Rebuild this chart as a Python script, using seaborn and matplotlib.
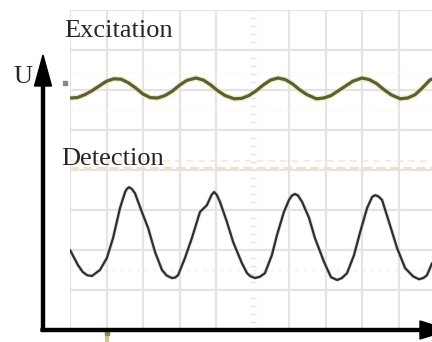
import numpy as np
import pandas as pd
import matplotlib
matplotlib.use('Agg')
import matplotlib.pyplot as plt
import seaborn as sns

# Oszilloskop-Bild: Zeit und Spannung in Rasterteilungen (div) gemessen
exc_t = [0.00, 0.20, 0.40, 0.60, 0.80, 1.00, 1.20, 1.40, 1.60, 1.80, 2.00, 2.20, 2.40, 2.60,
         2.80, 3.00, 3.20, 3.45, 3.65, 3.85, 4.05, 4.25, 4.50, 4.70, 4.90, 5.10, 5.30, 5.50,
         5.70, 5.90, 6.10, 6.30, 6.50, 6.75, 6.95, 7.15, 7.35, 7.55, 7.75, 8.00, 8.20, 8.40,
         8.60, 8.80, 9.05, 9.25, 9.45, 9.65, 9.86, 10.00]
exc_u = [1.80, 1.81, 1.88, 1.98, 2.10, 2.22, 2.28, 2.27, 2.18, 2.05, 1.90, 1.81, 1.80, 1.86,
         1.97, 2.12, 2.24, 2.30, 2.25, 2.13, 1.98, 1.86, 1.78, 1.79, 1.86, 1.98, 2.13, 2.25,
         2.30, 2.26, 2.15, 2.00, 1.88, 1.78, 1.80, 1.86, 1.98, 2.10, 2.22, 2.30, 2.26, 2.16,
         2.01, 1.88, 1.78, 1.80, 1.88, 2.05, 2.25, 2.30]

det_t = [0.00, 0.22, 0.35, 0.47, 0.60, 0.82, 1.01, 1.18, 1.37, 1.51, 1.56, 1.62, 1.70, 1.78,
         1.97, 2.14, 2.33, 2.52, 2.65, 2.79, 2.88, 2.96, 3.15, 3.34, 3.56, 3.75, 3.88, 3.95,
         4.02, 4.11, 4.30, 4.47, 4.71, 4.85, 4.95, 5.07, 5.20, 5.34, 5.53, 5.67, 5.86, 6.00,
         6.08, 6.16, 6.25, 6.36, 6.55, 6.71, 6.96, 7.15, 7.32, 7.45, 7.59, 7.78, 7.95, 8.14,
         8.28, 8.36, 8.45, 8.55, 8.74, 8.96, 9.18, 9.40, 9.56, 9.68, 9.78, 9.92]
det_u = [-2.00, -2.38, -2.55, -2.63, -2.65, -2.50, -2.20, -1.70, -0.95, -0.55, -0.47, -0.43,
         -0.48, -0.58, -1.05, -1.45, -2.05, -2.50, -2.64, -2.70, -2.69, -2.63, -2.20, -1.70,
         -1.05, -0.88, -0.62, -0.55, -0.62, -0.80, -1.30, -1.80, -2.33, -2.58, -2.66, -2.70,
         -2.67, -2.58, -2.13, -1.63, -1.05, -0.75, -0.64, -0.60, -0.64, -0.80, -1.20, -1.70,
         -2.30, -2.68, -2.75, -2.70, -2.58, -2.13, -1.55, -0.95, -0.67, -0.63, -0.66, -0.75,
         -1.30, -1.95, -2.45, -2.66, -2.73, -2.70, -2.63, -2.33]

labels = ['Excitation', 'Detection']
axis_label = 'U'

exc = pd.DataFrame({'t': exc_t, 'u': exc_u})
det = pd.DataFrame({'t': det_t, 'u': det_u})

sns.set_style('white')
plt.rcParams['font.family'] = ['Liberation Serif', 'DejaVu Serif']

fig = plt.figure(figsize=(4.32, 3.42), dpi=100)

# Bildschirm des Oszilloskops (10 x 8 Teilungen)
ax = fig.add_axes([70 / 432, 12 / 342, 365 / 432, 320 / 342])

grid_col = '#e4e4e4'
for gx in range(0, 11):
    if gx != 5:
        ax.axvline(gx, color=grid_col, lw=1.6, zorder=0)
for gy in range(-4, 5):
    ax.axhline(gy, color=grid_col, lw=1.6, zorder=0)
# Mittellinie mit Feinteilung
ax.plot(np.full(41, 5.0), np.linspace(-4, 4, 41), ls='none', marker='_', ms=5,
        color='#e2e2e2', zorder=0)
ax.axhline(-2.5, color='#ececec', lw=1, ls=(0, (2, 4)), zorder=0)
# Trigger-/Offsetlinien
ax.axhline(0.22, color='#f9e8d0', lw=1.2, ls=(0, (4, 3)), zorder=1)
ax.axhline(0.05, color='#f6dfbf', lw=1.6, ls=(0, (4, 2)), zorder=1)
ax.axhline(2.45, color='#faf8e6', lw=1, ls=(0, (2, 3)), zorder=1)
ax.axhline(1.50, color='#faf8e6', lw=1, ls=(0, (2, 3)), zorder=1)

sns.lineplot(data=exc, x='t', y='u', ax=ax, color='#e6e6a2', lw=4.2, alpha=0.6, zorder=2)
sns.lineplot(data=exc, x='t', y='u', ax=ax, color='#5e5e36', lw=2.3, zorder=3)
sns.lineplot(data=det, x='t', y='u', ax=ax, color='#c4c4c4', lw=2.8, alpha=0.5, zorder=2)
sns.lineplot(data=det, x='t', y='u', ax=ax, color='#2e2e2e', lw=1.6, zorder=3)
ax.set_xlim(0, 10)
ax.set_ylim(-4, 4)
ax.axis('off')

# Ebene für Pfeile und Beschriftung (Pixelkoordinaten)
ov = fig.add_axes([0, 0, 1, 1])
ov.set_xlim(0, 432)
ov.set_ylim(342, 0)
ov.axis('off')
ov.patch.set_alpha(0)

ov.arrow(43, 331, 0, -276, width=3, head_width=17, head_length=31,
         length_includes_head=True, color='black', zorder=5)
ov.arrow(41, 330, 408, 0, width=3, head_width=18, head_length=29,
         length_includes_head=True, color='black', zorder=5, clip_on=False)

# kleine Markierungen
ov.plot([65], [83], marker='s', ms=2.5, color='#8a8a7a', ls='none')
ov.plot([107, 107], [332, 342], color='#c8c88e', lw=3, solid_capstyle='butt')
ov.plot([107], [333], marker='s', ms=3.5, color='#8c8c52', ls='none')

ov.text(64, 37, labels[0], fontsize=19, ha='left', va='baseline')
ov.text(61, 165, labels[1], fontsize=19, ha='left', va='baseline')
ov.text(13, 83, axis_label, fontsize=19, ha='left', va='baseline')

fig.savefig('out.png', dpi=100, facecolor='white')
